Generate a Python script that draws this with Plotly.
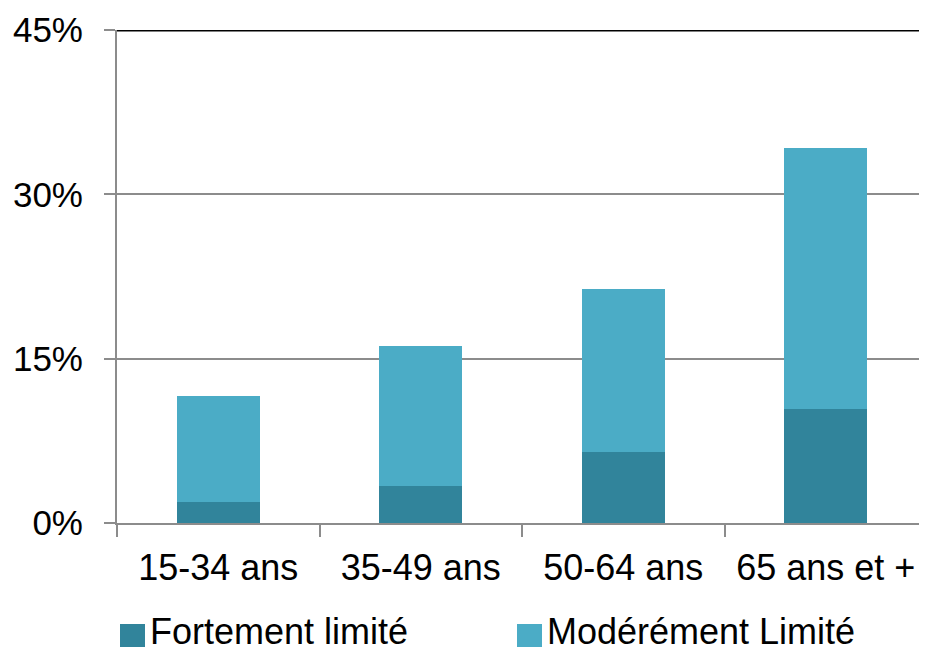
import plotly.graph_objects as go

categories = ["15-34 ans", "35-49 ans", "50-64 ans", "65 ans et +"]
fortement = [1.9, 3.4, 6.5, 10.4]
moderement = [9.7, 12.8, 14.9, 23.8]
series_names = ["Fortement limité", "Modérément Limité"]
y_ticks = [0, 15, 30, 45]
y_tick_labels = ["0%", "15%", "30%", "45%"]

dark = "#31849B"
light = "#4BACC6"
grid = "#8C8C8C"
FONT = "Liberation Sans, Arial, sans-serif"

fig = go.Figure()
fig.add_trace(go.Bar(x=categories, y=fortement, name=series_names[0],
                     marker=dict(color=dark, line=dict(width=0))))
fig.add_trace(go.Bar(x=categories, y=moderement, name=series_names[1],
                     marker=dict(color=light, line=dict(width=0))))

shapes = [dict(type="line", xref="paper", yref="y", x0=0, x1=1, y0=45, y1=45,
               line=dict(color="black", width=3))]

# legend swatches (paper coords) and labels
swatch_x = [(0.0037, 0.0346), (0.4938, 0.5247)]
text_x = [0.0383, 0.528]
for col, (x0, x1) in zip([dark, light], swatch_x):
    shapes.append(dict(type="rect", xref="paper", yref="paper", x0=x0, x1=x1,
                       y0=-0.2515, y1=-0.2049, fillcolor=col, line=dict(width=0)))

# page body has an 8px default margin, so compensate in size/margins
fig.update_layout(
    width=919, height=643,
    barmode="stack", bargap=0.59,
    plot_bgcolor="white", paper_bgcolor="white",
    margin=dict(l=109, r=0, t=22, b=128, autoexpand=False),
    showlegend=False,
    font=dict(family=FONT, size=35, color="#000000"),
    xaxis=dict(
        automargin=False,
        showline=True, linecolor=grid, linewidth=2,
        ticks="outside", tickson="boundaries", ticklen=12, tickwidth=2, tickcolor=grid,
        showgrid=False, tickfont=dict(size=36), ticklabelstandoff=12,
    ),
    yaxis=dict(
        automargin=False,
        range=[0, 45], tickvals=y_ticks, ticktext=y_tick_labels,
        showline=True, linecolor=grid, linewidth=2,
        ticks="outside", ticklen=11, tickwidth=2, tickcolor=grid,
        showgrid=True, gridcolor=grid, gridwidth=2, zeroline=False,
        tickfont=dict(size=35), ticklabelstandoff=14,
    ),
    shapes=shapes,
)

for name, lx in zip(series_names, text_x):
    fig.add_annotation(
        xref="paper", yref="paper", x=lx, y=-0.221, xanchor="left", yanchor="middle",
        showarrow=False, text=name,
        font=dict(family=FONT, size=36, color="#000000"),
    )

fig.write_html("out.html")
